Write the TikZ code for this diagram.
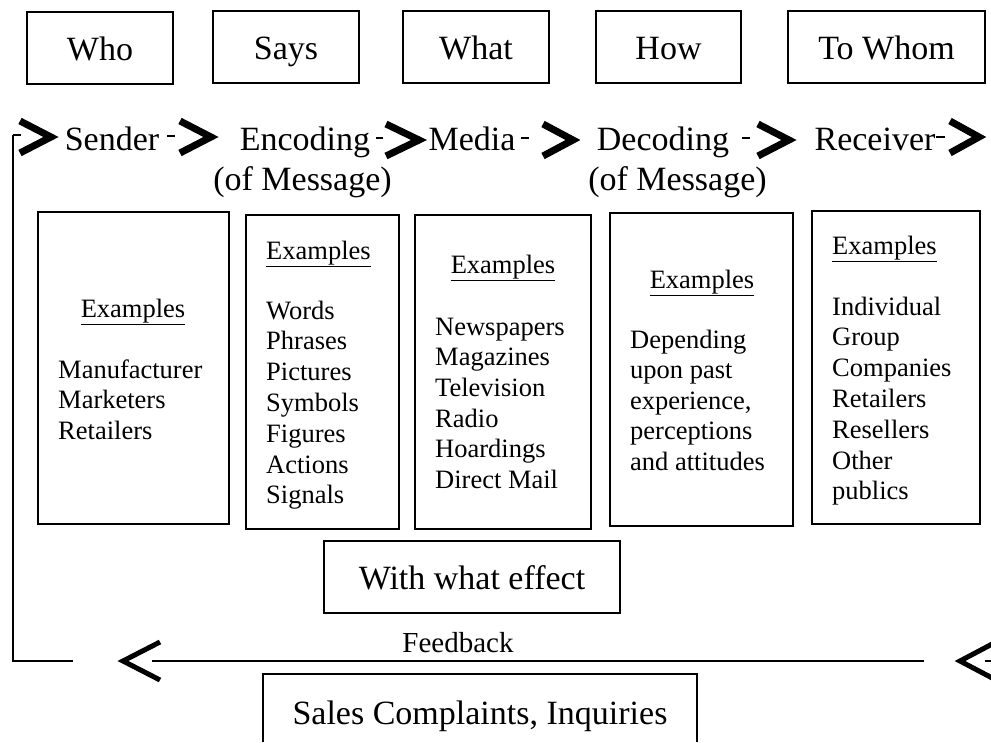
\documentclass[tikz,border=0pt]{standalone}
\usepackage{fontspec}
\setmainfont{Liberation Serif}
\begin{document}
\begin{tikzpicture}[x=1pt,y=-1pt,
  box/.style={draw, line width=1.6pt, inner sep=0pt},
  big/.style={font=\fontsize{34}{40}\selectfont, inner sep=0pt},
  toptext/.style={big, text height=24pt, text depth=0pt},
  small/.style={font=\fontsize{26.5}{30}\selectfont, inner sep=0pt, anchor=base west},
  chev/.style={line width=7pt, miter limit=10},
  tick/.style={line width=1.6pt},
  fbline/.style={line width=1.6pt},
  fbhead/.style={line width=5pt, miter limit=10}]
\useasboundingbox (0,0) rectangle (991,742);

% top row
\node[box, toptext, minimum width=146pt, minimum height=72pt] (who) at (100,48) {Who};
\node[box, toptext, minimum width=146pt, minimum height=72pt] (says) at (286,47) {Says};
\node[box, toptext, minimum width=146pt, minimum height=72pt] (what) at (476,47) {What};
\node[box, toptext, minimum width=145pt, minimum height=72pt] (how) at (668.5,47) {How};
\node[box, toptext, minimum width=197pt, minimum height=72pt] (towhom) at (886.5,47) {To Whom};

% process row
\node[big, anchor=base] (sender) at (112,150) {Sender};
\node[big, anchor=base] (encoding) at (305,150) {Encoding};
\node[big, anchor=base] (encof) at (302.5,190) {(of Message)};
\node[big, anchor=base] (media) at (472,150) {Media};
\node[big, anchor=base] (decoding) at (663,150) {Decoding};
\node[big, anchor=base] (decof) at (677.5,190) {(of Message)};
\node[big, anchor=base] (receiver) at (875,150) {Receiver};

% chevrons and dashes
\draw[chev] (20,121) -- (51,137) -- (20,153);
\draw[tick] (167,136) -- (175,136);
\draw[chev] (180,121) -- (211,137) -- (180,153);
\draw[tick] (376,138) -- (383,138);
\draw[chev] (386,124) -- (419,140) -- (386,156);
\draw[tick] (521,138) -- (529,138);
\draw[chev] (543,124) -- (573,140) -- (543,156);
\draw[tick] (742,138) -- (750,138);
\draw[chev] (758,124) -- (789,140) -- (758,156);
\draw[tick] (936,137) -- (945,137);
\draw[chev] (950,121) -- (979,137) -- (950,153);

% example boxes
\node[box, minimum width=191pt, minimum height=312pt] (sbox) at (133.5,368) {};
\node[box, minimum width=153pt, minimum height=314pt] (ebox) at (322.5,372) {};
\node[box, minimum width=176pt, minimum height=314pt] (mbox) at (503,372) {};
\node[box, minimum width=183pt, minimum height=313pt] (dbox) at (701.5,369.5) {};
\node[box, minimum width=168pt, minimum height=313pt] (rbox) at (896,367.5) {};

\node[small, anchor=base] (sex) at (133,317) {\underline{Examples}};
\foreach \t [count=\i from 0] in {Manufacturer,Marketers,Retailers}
  \node[small] (s\i) at (58,378+30.5*\i) {\t};

\node[small] (eex) at (266,259) {\underline{Examples}};
\foreach \t [count=\i from 0] in {Words,Phrases,Pictures,Symbols,Figures,Actions,Signals}
  \node[small] (e\i) at (266,319+30.8*\i) {\t};

\node[small, anchor=base] (mex) at (503,273) {\underline{Examples}};
\foreach \t [count=\i from 0] in {Newspapers,Magazines,Television,Radio,Hoardings,Direct Mail}
  \node[small] (m\i) at (435,335+30.7*\i) {\t};

\node[small, anchor=base] (dex) at (702,288) {\underline{Examples}};
\foreach \t [count=\i from 0] in {Depending,upon past,{experience,},perceptions,and attitudes}
  \node[small] (d\i) at (630,348+30.6*\i) {\t};

\node[small] (rex) at (832,254) {\underline{Examples}};
\foreach \t [count=\i from 0] in {Individual,Group,Companies,Retailers,Resellers,Other,publics}
  \node[small] (r\i) at (832,315+30.8*\i) {\t};

% effect
\node[box, toptext, minimum width=296pt, minimum height=72pt] (effect) at (472,577) {With what effect};

% feedback
\coordinate (fbtop) at (13,135);
\coordinate (fbcorner) at (13,661);
\coordinate (fbend) at (73,661);
\draw[tick] (fbtop) -- (21,135);
\draw[fbline] (fbtop) -- (fbcorner) -- (fbend);
\coordinate (fbstart) at (924,661);
\coordinate (fbstop) at (152,661);
\draw[fbline] (fbstart) -- (fbstop);
\draw[fbhead] (160,642) -- (123,661) -- (160,680);
\draw[fbhead] (996,642) -- (960,661) -- (996,680);
\draw[tick] (985,661) -- (991,661);
\node[font=\fontsize{29}{34}\selectfont, anchor=base, inner sep=0pt] (fb) at (458,652) {Feedback};

% sales box (cut by the lower edge)
\draw[line width=1.6pt] (263,742) -- (263,674) -- (697,674) -- (697,742);
\node[big, anchor=base] (sales) at (480,724) {Sales Complaints, Inquiries};
\end{tikzpicture}
\end{document}
